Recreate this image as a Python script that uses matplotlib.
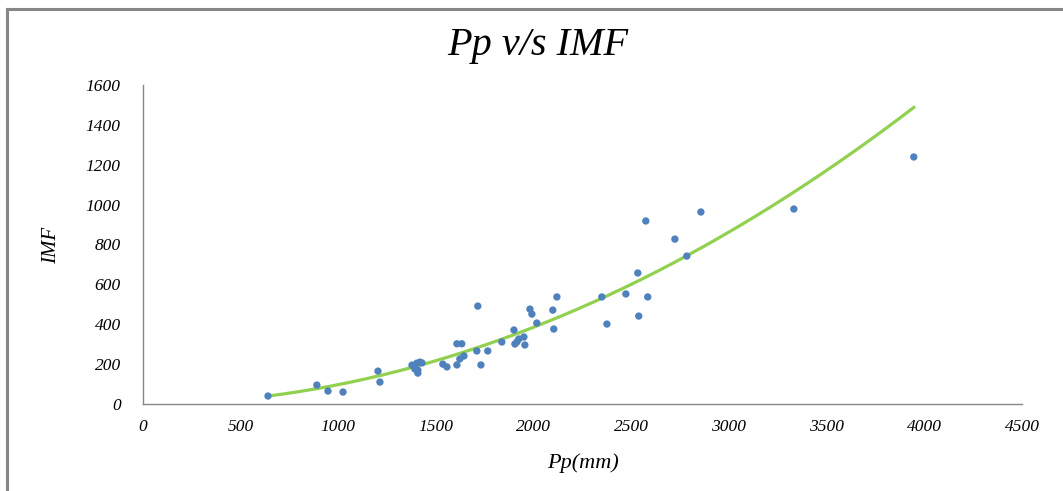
import numpy as np
import matplotlib
matplotlib.use("Agg")
import matplotlib.pyplot as plt
from matplotlib.lines import Line2D

# Measured Pp (mm) and IMF values
pp = [640, 890, 947, 1024, 1203, 1213, 1377, 1392, 1402, 1407, 1407, 1418, 1428,
      1535, 1556, 1607, 1607, 1622, 1632, 1643, 1709, 1714, 1730, 1765, 1837,
      1899, 1904, 1914, 1924, 1950, 1955, 1981, 1991, 2016, 2098, 2103, 2119,
      2349, 2375, 2472, 2533, 2538, 2574, 2584, 2723, 2784, 2856, 3332, 3946]
imf = [40, 95, 65, 60, 165, 110, 195, 175, 205, 170, 155, 210, 206,
       200, 186, 302, 196, 226, 302, 241, 266, 491, 196, 266, 311,
       371, 301, 311, 326, 336, 296, 476, 451, 406, 471, 376, 537,
       537, 401, 552, 657, 441, 918, 537, 827, 742, 963, 978, 1239]

# power-law trendline IMF = k * Pp^p
trend_k = 1.055e-4
trend_p = 1.988

x_ticks = [0, 500, 1000, 1500, 2000, 2500, 3000, 3500, 4000, 4500]
y_ticks = [0, 200, 400, 600, 800, 1000, 1200, 1400, 1600]

fig = plt.figure(figsize=(10.63, 4.91), dpi=100)
ax = fig.add_axes([143 / 1063, 1 - 404 / 491, (1022 - 143) / 1063, (404 - 85) / 491])

xs = np.linspace(min(pp), max(pp), 200)
ax.plot(xs, trend_k * xs ** trend_p, color="#92D050", lw=2.3, zorder=2)

ax.scatter(pp, imf, s=28, color="#4F81BD", edgecolors="none", zorder=3)

ax.set_xlim(0, 4500)
ax.set_ylim(0, 1600)
ax.set_xticks(x_ticks)
ax.set_yticks(y_ticks)
tick_font = dict(family="Liberation Serif", style="italic", size=12.5)
ax.set_xticklabels([str(t) for t in x_ticks], **tick_font)
ax.set_yticklabels([str(t) for t in y_ticks], **tick_font)
ax.tick_params(axis="x", length=0, pad=11)
ax.tick_params(axis="y", length=0, pad=16)
for side in ("top", "right"):
    ax.spines[side].set_visible(False)
for side in ("left", "bottom"):
    ax.spines[side].set_color("#868686")
    ax.spines[side].set_linewidth(1.0)

fig.text(583 / 1063, 1 - 463 / 491, "Pp(mm)", ha="center", va="center",
         family="Liberation Serif", style="italic", size=16)
fig.text(52 / 1063, 1 - 245 / 491, "IMF", ha="center", va="center", rotation=90,
         family="Liberation Serif", style="italic", size=15)
fig.text(538 / 1063, 1 - 45 / 491, "Pp v/s IMF", ha="center", va="center",
         family="Liberation Serif", style="italic", size=29)

# chart area border (left and top edges)
fig.add_artist(Line2D([7 / 1063, 7 / 1063], [0, 1 - 9 / 491], color="#868686", lw=2.2,
                      transform=fig.transFigure))
fig.add_artist(Line2D([7 / 1063, 1], [1 - 9 / 491, 1 - 9 / 491], color="#868686", lw=2.2,
                      transform=fig.transFigure))

fig.savefig("out.png", dpi=100)
